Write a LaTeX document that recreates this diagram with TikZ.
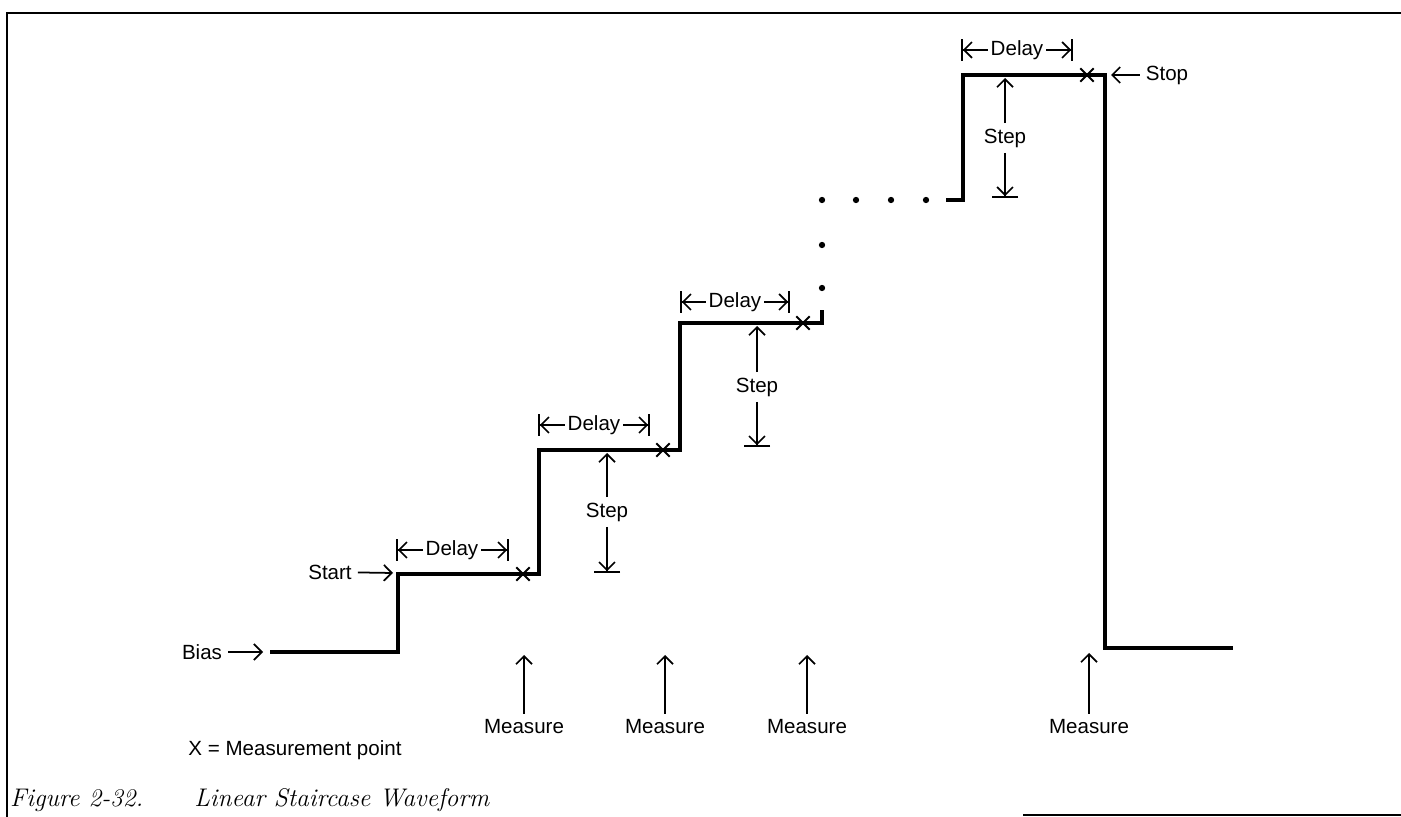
\documentclass[tikz,border=0pt]{standalone}
\usepackage{fontspec}
\newfontfamily\labfont{Liberation Sans}
\usepackage{tikz}
\usetikzlibrary{arrows.meta,positioning,calc,shapes.misc}

\begin{document}
\begin{tikzpicture}[x=0.02cm,y=-0.02cm,
   >={Straight Barb[length=4.5pt,width=9pt]},
   font={\labfont\fontsize{11.7}{14}\selectfont},
   wave/.style={line width=2.3pt},
   arr/.style={->,line width=1pt},
   dimarr/.style={-{Straight Barb[length=4.5pt,width=9pt]Bar[width=12.5pt]},line width=1pt},
   steparr/.style={-{Straight Barb[length=4.5pt,width=9pt]Bar[width=15pt]},line width=1pt},
   xmark/.style={cross out,draw,line width=1.1pt,minimum size=6.5pt,inner sep=0pt},
   lab/.style={inner sep=1.5pt}]
  \useasboundingbox (0,0) rectangle (1401,817);
  % frame
  \coordinate (tl) at (7,13);
  \coordinate (tr) at (1401,13);
  \coordinate (bl) at (7,817);
  \coordinate (brl) at (1023,815);
  \coordinate (brr) at (1401,815);
  \draw[line width=1.7pt] (tr) -- (tl) -- (bl);
  \draw[line width=0.6pt] (brl) -- (brr);
  % staircase
  \draw[wave] (270,652) -| (398,574) -| (539,450) -| (680,323) -| (822,310);
  \fill (822,288) circle (1.8pt);
  \fill (822,245) circle (1.8pt);
  \fill (822,200) circle (1.8pt);
  \fill (856,200) circle (1.8pt);
  \fill (891,200) circle (1.8pt);
  \fill (926,200) circle (1.8pt);
  \draw[wave] (946,200) -| (963,75) -| (1105,648) -- (1233,648);
  % measurement points
  \node[xmark] (x1) at (523,574) {};
  \node[xmark] (x2) at (663,450) {};
  \node[xmark] (x3) at (803,323) {};
  \node[xmark] (x4) at (1087,75) {};
  % bias, start, stop
  \node (bias) at (202,652) {Bias};
  \coordinate (biasend) at (263,652);
  \draw[arr] (bias) -- (biasend);
  \node (start) at (330,572) {Start};
  \coordinate (startend) at (393,573);
  \draw[arr] (start) -- (startend);
  \node (stop) at (1167,75) {Stop};
  \coordinate (stopend) at (1111,75);
  \draw[arr] (stop) -- (stopend);
  % delays
  \node[lab] (dl1) at (452,550) {Delay};
  \coordinate (dl1a) at (396,550);
  \coordinate (dl1b) at (509,550);
  \draw[dimarr] (dl1) -- (dl1a);
  \draw[dimarr] (dl1) -- (dl1b);
  \node[lab] (dl2) at (594,425) {Delay};
  \coordinate (dl2a) at (538,425);
  \coordinate (dl2b) at (650,425);
  \draw[dimarr] (dl2) -- (dl2a);
  \draw[dimarr] (dl2) -- (dl2b);
  \node[lab] (dl3) at (735,302) {Delay};
  \coordinate (dl3a) at (680,302);
  \coordinate (dl3b) at (790,302);
  \draw[dimarr] (dl3) -- (dl3a);
  \draw[dimarr] (dl3) -- (dl3b);
  \node[lab] (dl4) at (1017,50) {Delay};
  \coordinate (dl4a) at (961,50);
  \coordinate (dl4b) at (1073,50);
  \draw[dimarr] (dl4) -- (dl4a);
  \draw[dimarr] (dl4) -- (dl4b);
  % steps
  \node[lab,inner sep=3pt] (st1) at (607,512) {Step};
  \coordinate (st1t) at (607,453);
  \coordinate (st1b) at (607,573);
  \draw[arr] (st1) -- (st1t);
  \draw[steparr] (st1) -- (st1b);
  \node[lab,inner sep=3pt] (st2) at (757,387) {Step};
  \coordinate (st2t) at (757,326);
  \coordinate (st2b) at (757,447);
  \draw[arr] (st2) -- (st2t);
  \draw[steparr] (st2) -- (st2b);
  \node[lab,inner sep=3pt] (st3) at (1005,138) {Step};
  \coordinate (st3t) at (1005,78);
  \coordinate (st3b) at (1005,198);
  \draw[arr] (st3) -- (st3t);
  \draw[steparr] (st3) -- (st3b);
  % measure
  \node (me1) at (524,727) {Measure};
  \coordinate (me1t) at (524,655);
  \draw[arr] (me1) -- (me1t);
  \node (me2) at (665,727) {Measure};
  \coordinate (me2t) at (665,655);
  \draw[arr] (me2) -- (me2t);
  \node (me3) at (807,727) {Measure};
  \coordinate (me3t) at (807,655);
  \draw[arr] (me3) -- (me3t);
  \node (me4) at (1089,727) {Measure};
  \coordinate (me4t) at (1089,653);
  \draw[arr] (me4) -- (me4t);
  % legend and caption
  \node (legend) at (295,750) {X = Measurement point};
  \node[anchor=west,font={\rmfamily\itshape\fontsize{14.5}{18}\selectfont}] (cap) at (4,800)
    {Figure 2-32.\hspace{2em}Linear Staircase Waveform};
\end{tikzpicture}
\end{document}
